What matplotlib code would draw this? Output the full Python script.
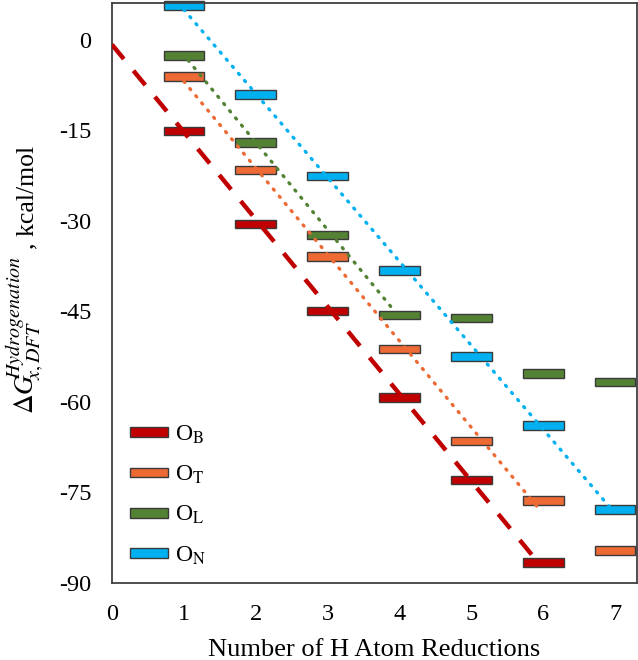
import matplotlib
matplotlib.use("Agg")
import matplotlib.pyplot as plt
from matplotlib.patches import Patch

# ---- data ----
labels = ["O$_\\mathrm{B}$", "O$_\\mathrm{T}$", "O$_\\mathrm{L}$", "O$_\\mathrm{N}$"]

x_B = [1, 2, 3, 4, 5, 6]
y_B = [-15.1, -30.5, -44.9, -59.3, -72.9, -86.6]

x_T = [1, 2, 3, 4, 5, 6, 7]
y_T = [-6.1, -21.6, -35.9, -51.2, -66.5, -76.3, -84.6]

x_L = [1, 2, 3, 4, 5, 6, 7]
y_L = [-2.6, -17.0, -32.3, -45.6, -46.1, -55.3, -56.7]

x_N = [1, 2, 3, 4, 5, 6, 7]
y_N = [5.7, -9.1, -22.6, -38.2, -52.5, -63.9, -77.8]

# trend lines (start, end)
trend_B_x = [0.0, 5.87]
trend_B_y = [-0.8, -85.75]
trend_T_x = [1.0, 5.96]
trend_T_y = [-6.9, -78.0]
trend_L_x = [1.06, 3.92]
trend_L_y = [-3.4, -44.8]
trend_N_x = [1.0, 6.98]
trend_N_y = [5.0, -78.2]

x_ticks = [0, 1, 2, 3, 4, 5, 6, 7]
y_ticks = [0, -15, -30, -45, -60, -75, -90]

xlabel = "Number of H Atom Reductions"
ylabel_main = r"$\Delta G$"
ylabel_sup = r"$Hydrogenation$"
ylabel_sub = r"$x,DFT$"
ylabel_unit = ", kcal/mol"

# ---- style ----
c_B = "#C00000"
c_T = "#EE6A35"
c_L = "#548235"
c_N = "#00B0F0"
edge = "#3A3A3A"

plt.rcParams["font.family"] = ["Liberation Serif", "DejaVu Serif"]
plt.rcParams["mathtext.fontset"] = "stix"

W, H = 638, 660
fig = plt.figure(figsize=(W / 100, H / 100), dpi=100)
ax = fig.add_axes([0.1755, 0.1167, 0.8225, 0.8788])

bar_w = 0.565
bar_h = 1.4

for xs, ys, c in [(x_B, y_B, c_B), (x_T, y_T, c_T), (x_L, y_L, c_L), (x_N, y_N, c_N)]:
    ax.bar(xs, [bar_h] * len(ys), bottom=[v - bar_h / 2 for v in ys], width=bar_w,
           color=c, edgecolor=edge, linewidth=1.0, zorder=2, clip_on=False)

ax.plot(trend_B_x, trend_B_y, color=c_B, lw=3.2, ls=(0, (4.2, 3.4)), zorder=3)
dot = (0, (0.4, 2.4))
ax.plot(trend_T_x, trend_T_y, color=c_T, lw=2.4, ls=dot, zorder=3, dash_capstyle="round")
ax.plot(trend_L_x, trend_L_y, color=c_L, lw=2.4, ls=dot, zorder=3, dash_capstyle="round")
ax.plot(trend_N_x, trend_N_y, color=c_N, lw=2.4, ls=dot, zorder=3, dash_capstyle="round")

ax.set_xlim(0, 7.3)
ax.set_ylim(-90, 6.1)
ax.set_xticks(x_ticks)
ax.set_yticks(y_ticks)
ax.set_xticklabels([str(t) for t in x_ticks])
ax.set_yticklabels([str(t) for t in y_ticks])
ax.tick_params(length=0, labelsize=17.5, pad=15)

for s in ax.spines.values():
    s.set_color("#404040")
    s.set_linewidth(1.3)

ax.set_xlabel(xlabel, fontsize=19, labelpad=10)


def ytxt(px, py, s, size):
    fig.text(px / W, 1 - py / H, s, fontsize=size, rotation=90,
             rotation_mode="anchor", ha="left", va="baseline")


ytxt(33, 414, ylabel_main, 19.5)
ytxt(20, 379, ylabel_sup, 14.5)
ytxt(40.5, 380, ylabel_sub, 14.5)
ytxt(33, 249, ylabel_unit, 18.5)

handles = [Patch(facecolor=c, edgecolor=edge, linewidth=1.0) for c in (c_B, c_T, c_L, c_N)]
ax.legend(handles, labels, loc="lower left", bbox_to_anchor=(0.034, 0.028),
          frameon=False, fontsize=17, handlelength=1.6, handleheight=0.26,
          handletextpad=0.3, labelspacing=0.76, borderaxespad=0.0,
          borderpad=0.0)

fig.savefig("out.png", dpi=100)
